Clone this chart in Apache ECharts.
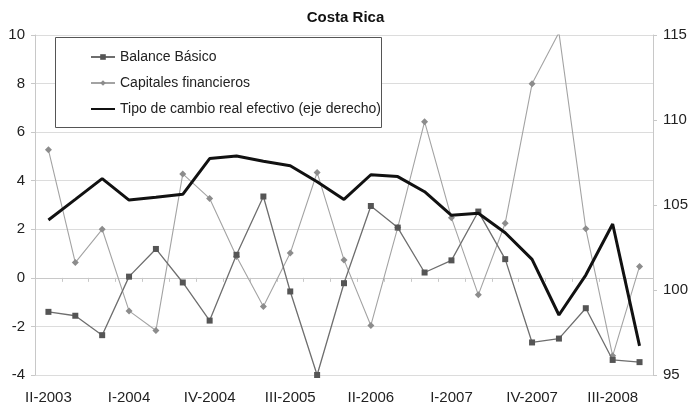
<!DOCTYPE html>
<html>
<head>
<meta charset="utf-8">
<script src="https://cdn.jsdelivr.net/npm/echarts@6/dist/echarts.min.js"></script>
<style>html,body{margin:0;padding:0;background:#fff}#c{width:691px;height:406px}</style>
</head>
<body>
<div id="c"></div>
<script>
var categories = ['II-2003','III-2003','IV-2003','I-2004','II-2004','III-2004','IV-2004','I-2005','II-2005','III-2005','IV-2005','I-2006','II-2006','III-2006','IV-2006','I-2007','II-2007','III-2007','IV-2007','I-2008','II-2008','III-2008','IV-2008'];
var balanceBasico = [-1.40,-1.56,-2.36,0.05,1.19,-0.19,-1.76,0.95,3.35,-0.56,-4.0,-0.22,2.96,2.07,0.22,0.72,2.73,0.77,-2.66,-2.50,-1.25,-3.38,-3.47];
var capitalesFinancieros = [5.27,0.63,2.0,-1.36,-2.17,4.28,3.27,0.88,-1.18,1.02,4.34,0.74,-1.96,2.07,6.43,2.47,-0.70,2.25,7.99,10.1,2.02,-3.21,0.47];
var tipoCambio = [104.12,105.33,106.55,105.29,105.45,105.63,107.73,107.88,107.57,107.31,106.37,105.33,106.78,106.67,105.78,104.39,104.51,103.37,101.8,98.53,100.88,103.88,96.71];
var leftTicks = {min:-4, max:10, interval:2};
var rightTicks = {min:95, max:115, interval:5};

var FONT = "'Liberation Sans', Arial, sans-serif";
var chart = echarts.init(document.getElementById('c'));
chart.setOption({
  animation: false,
  backgroundColor: '#fff',
  textStyle: {fontFamily: FONT},
  title: {text: 'Costa Rica', left: 'center', top: 5,
    textStyle: {fontSize: 15, fontWeight: 'bold', color: '#111', fontFamily: FONT}},
  grid: {left: 35, right: 38, top: 35, bottom: 31},
  graphic: [{type: 'rect', left: 55, top: 37, shape: {width: 326, height: 90},
    style: {fill: '#fff', stroke: '#555', lineWidth: 1}, z: 5}],
  legend: {
    orient: 'vertical', left: 85, top: 44, itemGap: 10, itemWidth: 24, itemHeight: 7,
    itemTextGap: 3,
    z: 10,
    textStyle: {fontSize: 14, color: '#222', fontFamily: FONT, lineHeight: 16},
    data: [
      {name: 'Balance Básico'},
      {name: 'Capitales financieros'},
      {name: 'Tipo de cambio real efectivo (eje derecho)', itemStyle: {color: 'rgba(0,0,0,0)', borderWidth: 0, opacity: 0}}
    ]
  },
  xAxis: [{
    type: 'category', data: categories, position: 'bottom',
    axisLine: {show: false, onZero: false}, axisTick: {show: false},
    axisLabel: {interval: 2, fontSize: 15, color: '#222', margin: 15, fontFamily: FONT},
    splitLine: {show: false}
  }, {
    type: 'category', data: categories, position: 'bottom',
    axisLine: {show: true, onZero: true, onZeroAxisIndex: 0, lineStyle: {color: '#c8c8c8'}},
    axisTick: {show: true, interval: 0, length: 4, lineStyle: {color: '#c8c8c8'}},
    axisLabel: {show: false}, splitLine: {show: false}
  }],
  yAxis: [{
    type: 'value', min: leftTicks.min, max: leftTicks.max, interval: leftTicks.interval,
    axisLine: {show: true, lineStyle: {color: '#c8c8c8'}},
    axisTick: {show: true, length: 4, lineStyle: {color: '#c8c8c8'}},
    axisLabel: {fontSize: 15, color: '#222', margin: 10, fontFamily: FONT},
    splitLine: {show: true, lineStyle: {color: '#dcdcdc', width: 1}}
  }, {
    type: 'value', min: rightTicks.min, max: rightTicks.max, interval: rightTicks.interval,
    position: 'right',
    axisLine: {show: true, lineStyle: {color: '#c8c8c8'}},
    axisTick: {show: true, length: 4, lineStyle: {color: '#c8c8c8'}},
    axisLabel: {fontSize: 15, color: '#222', margin: 10, fontFamily: FONT},
    splitLine: {show: false}
  }],
  series: [{
    name: 'Balance Básico', type: 'line', data: balanceBasico, yAxisIndex: 0,
    symbol: 'rect', symbolSize: 6, showAllSymbol: true,
    lineStyle: {color: '#6e6e6e', width: 1.3},
    itemStyle: {color: '#555555', borderWidth: 0}, z: 3
  }, {
    name: 'Capitales financieros', type: 'line', data: capitalesFinancieros, yAxisIndex: 0,
    symbol: 'diamond', symbolSize: 7, showAllSymbol: true,
    lineStyle: {color: '#a3a3a3', width: 1.1},
    itemStyle: {color: '#8c8c8c', borderWidth: 0}, z: 2
  }, {
    name: 'Tipo de cambio real efectivo (eje derecho)', type: 'line', data: tipoCambio, yAxisIndex: 1,
    symbol: 'none', lineStyle: {color: '#111', width: 3},
    itemStyle: {color: '#111'}, z: 4
  }]
});
</script>
</body>
</html>
